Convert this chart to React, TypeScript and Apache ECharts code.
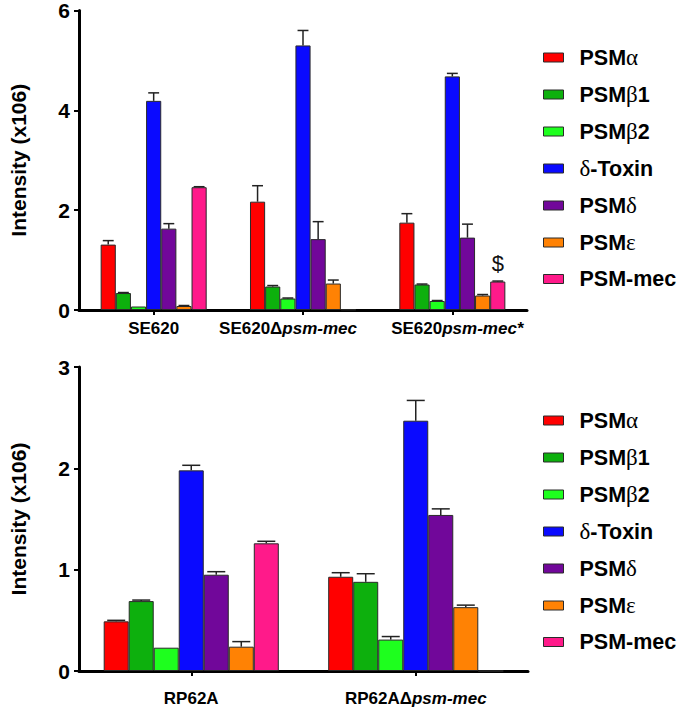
import React, { useEffect, useRef } from "react";
import * as echarts from "echarts";

const seriesNames = ["PSMα", "PSMβ1", "PSMβ2", "δ-Toxin", "PSMδ", "PSMε", "PSM-mec"];
const seriesColors = ["#ff0000", "#0db00d", "#1eff1e", "#0a0aff", "#71079a", "#ff8204", "#ff1a8a"];

const topCategories = ["SE620", "SE620Δpsm-mec", "SE620psm-mec*"];
const se620 = [1.31, 0.34, 0.07, 4.19, 1.63, 0.08, 2.46];
const se620Err = [1.39, 0.35, 0.07, 4.35, 1.73, 0.09, 2.47];
const se620Del = [2.17, 0.47, 0.23, 5.3, 1.42, 0.53, 0.01];
const se620DelErr = [2.49, 0.49, 0.24, 5.6, 1.77, 0.6, 0.01];
const se620Comp = [1.75, 0.51, 0.18, 4.68, 1.45, 0.29, 0.57];
const se620CompErr = [1.93, 0.52, 0.19, 4.74, 1.72, 0.31, 0.58];

const bottomCategories = ["RP62A", "RP62AΔpsm-mec"];
const rp62a = [0.49, 0.69, 0.23, 1.98, 0.95, 0.24, 1.26];
const rp62aErr = [0.5, 0.7, 0.23, 2.03, 0.98, 0.29, 1.28];
const rp62aDel = [0.93, 0.88, 0.31, 2.47, 1.54, 0.63, 0];
const rp62aDelErr = [0.97, 0.96, 0.34, 2.67, 1.6, 0.65, 0];

const topTicks = { min: 0, max: 6, interval: 2 };
const bottomTicks = { min: 0, max: 3, interval: 1 };

const SANS = "Liberation Sans, Arial, sans-serif";
const SERIF = "Liberation Serif, DejaVu Serif, serif";

function catLabel(v: string) {
  const i = v.indexOf("psm");
  if (i < 0) return `{b|${v}}`;
  let s = `{b|${v.slice(0, i)}}{i|${v.slice(i)}}`;
  if (v === "SE620Δpsm-mec") s = s + "{sr| }";
  if (v === "SE620psm-mec*") s = "{sl| }" + s;
  return s;
}

function legendLabel(name: string) {
  return "{b|" + name.replace(/([α-ω])/g, "}{g|$1}{b|") + "}";
}

export default function App() {
  const ref = useRef<HTMLDivElement>(null);
  useEffect(() => {
    if (!ref.current) return;
    const chart = echarts.init(ref.current, null, { renderer: "svg" });

    const panels = [
      {
        cats: topCategories,
        rows: [se620, se620Del, se620Comp],
        errs: [se620Err, se620DelErr, se620CompErr],
        gap: 0.29,
        ticks: topTicks,
        labelMargin: 10,
      },
      {
        cats: bottomCategories,
        rows: [rp62a, rp62aDel],
        errs: [rp62aErr, rp62aDelErr],
        gap: 0.22,
        ticks: bottomTicks,
        labelMargin: 19,
      },
    ];

    const axisLine = { show: true, lineStyle: { color: "#000", width: 3 } };

    const xAxis = panels.map((p, pi) => ({
      type: "category",
      gridIndex: pi,
      data: p.cats,
      axisLine,
      axisTick: { show: true, alignWithLabel: true, length: 5, lineStyle: { color: "#000", width: 2 } },
      axisLabel: {
        interval: 0,
        margin: p.labelMargin,
        formatter: catLabel,
        rich: {
          b: { fontFamily: SANS, fontWeight: "bold", fontSize: 17, color: "#000" },
          i: { fontFamily: SANS, fontWeight: "bold", fontStyle: "italic", fontSize: 17, color: "#000" },
          sr: { fontSize: 17, width: 30 },
          sl: { fontSize: 17, width: 10 },
        },
      },
      splitLine: { show: false },
    }));

    const yAxis = panels.map((p, pi) => ({
      type: "value",
      gridIndex: pi,
      min: p.ticks.min,
      max: p.ticks.max,
      interval: p.ticks.interval,
      name: "Intensity (x106)",
      nameLocation: "middle",
      nameGap: 50,
      nameTextStyle: { fontFamily: SANS, fontWeight: "bold", fontSize: 21, color: "#000" },
      axisLine,
      axisTick: { show: true, length: 5, lineStyle: { color: "#000", width: 2 } },
      axisLabel: { margin: 9, fontFamily: SANS, fontWeight: "bold", fontSize: 21, color: "#000" },
      splitLine: { show: false },
    }));

    const series: any[] = [];
    panels.forEach((p, pi) => {
      seriesNames.forEach((name, si) => {
        series.push({
          type: "bar",
          name,
          xAxisIndex: pi,
          yAxisIndex: pi,
          barGap: "0%",
          barCategoryGap: `${p.gap * 100}%`,
          itemStyle: { color: seriesColors[si], borderColor: "#2a2a2a", borderWidth: 1 },
          data: p.rows.map((row, ci) => {
            const item: any = { value: row[si] };
            if (pi === 0 && ci === 2 && si === 6) {
              item.label = {
                show: true,
                position: "top",
                distance: 7,
                formatter: "$",
                fontFamily: SANS,
                fontSize: 22,
                color: "#111",
              };
            }
            return item;
          }),
        });
      });
      const errData: number[][] = [];
      p.rows.forEach((row, ci) => {
        row.forEach((v, si) => {
          const e = p.errs[ci][si];
          if (e > v + 0.001) errData.push([ci, si, v, e]);
        });
      });
      const gap = p.gap;
      series.push({
        type: "custom",
        xAxisIndex: pi,
        yAxisIndex: pi,
        z: 3,
        silent: true,
        encode: { x: 0, y: 3 },
        data: errData,
        renderItem: (params: any, api: any) => {
          const ci = api.value(0);
          const si = api.value(1);
          const v = api.value(2);
          const e = api.value(3);
          const b = api.coord([ci, v]);
          const t = api.coord([ci, e]);
          const band = api.size([1, 0])[0];
          const bw = (band * (1 - gap)) / 7;
          const x = b[0] + (si - 3) * bw;
          const half = bw * 0.36;
          const style = { stroke: "#222", lineWidth: 1.5 };
          return {
            type: "group",
            children: [
              { type: "line", shape: { x1: x, y1: b[1], x2: x, y2: t[1] }, style },
              { type: "line", shape: { x1: x - half, y1: t[1], x2: x + half, y2: t[1] }, style },
            ],
          };
        },
      });
    });

    const legendBase = {
      orient: "vertical",
      left: 543,
      padding: 0,
      itemWidth: 20,
      itemHeight: 9,
      itemGap: 14,
      icon: "rect",
      selectedMode: false,
      itemStyle: { borderColor: "#2a2a2a", borderWidth: 1 },
      formatter: legendLabel,
      textStyle: {
        padding: [0, 0, 0, 11],
        rich: {
          b: { fontFamily: SANS, fontWeight: "bold", fontSize: 21.5, color: "#000", lineHeight: 23 },
          g: { fontFamily: SERIF, fontWeight: "normal", fontSize: 23, color: "#000", lineHeight: 23 },
        },
      },
      data: seriesNames,
    };

    chart.setOption({
      animation: false,
      backgroundColor: "#fff",
      grid: [
        { left: 70, top: 5, width: 457, height: 305 },
        { left: 70, top: 367, width: 458, height: 304 },
      ],
      legend: [
        { ...legendBase, top: 46 },
        { ...legendBase, top: 409 },
      ],
      xAxis,
      yAxis,
      series,
    });
    return () => chart.dispose();
  }, []);
  return (
    <div
      ref={ref}
      style={{ position: "absolute", left: 0, top: 0, width: 677, height: 708, background: "#fff" }}
    />
  );
}
